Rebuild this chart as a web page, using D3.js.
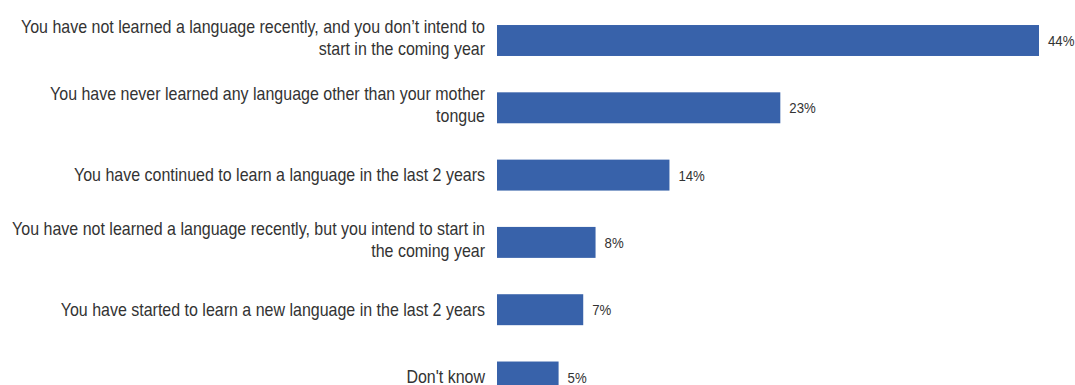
<!DOCTYPE html>
<html><head><meta charset="utf-8">
<script src="https://cdn.jsdelivr.net/npm/d3@7"></script>
<style>
html,body{margin:0;padding:0;background:#fff;}
svg{display:block;}
text{font-family:"Liberation Sans Narrow","Arial Narrow","Liberation Sans",Arial,sans-serif;fill:#333;}
</style></head>
<body>
<svg id="chart" width="1075" height="385"></svg>
<script>
const categories = [
  ["You have not learned a language recently, and you don\u2019t intend to", "start in the coming year"],
  ["You have never learned any language other than your mother", "tongue"],
  ["You have continued to learn a language in the last 2 years"],
  ["You have not learned a language recently, but you intend to start in", "the coming year"],
  ["You have started to learn a new language in the last 2 years"],
  ["Don't know"]
];
const values = [44, 23, 14, 8, 7, 5];
const valueLabels = ["44%", "23%", "14%", "8%", "7%", "5%"];

const svg = d3.select("#chart");
const n = categories.length;
const step = 67.3;
const y = d3.scaleBand().domain(d3.range(n)).range([6.85, 6.85 + n*step]).paddingInner(0.54).paddingOuter(0.27);
const x = d3.scaleLinear().domain([0, 44]).range([497, 1039]);

svg.selectAll("rect.bar").data(values).join("rect")
  .attr("class","bar")
  .attr("x", x(0))
  .attr("y", (d,i)=>y(i))
  .attr("width", d=>x(d)-x(0))
  .attr("height", y.bandwidth())
  .attr("fill", "#3862aa");

svg.selectAll("text.val").data(values).join("text")
  .attr("class","val")
  .attr("transform", (d,i)=>`translate(${x(d)+9},${y(i)+y.bandwidth()/2+5.5}) scale(0.88,1)`)
  .attr("font-size", 15)
  .text((d,i)=>valueLabels[i]);

const lh = 22;
const g = svg.selectAll("text.cat").data(categories).join("text")
  .attr("class","cat")
  .attr("text-anchor","end")
  .attr("font-size", 18)
  .attr("transform", (d,i)=>{
    const c = y(i)+y.bandwidth()/2;
    const base = d.length > 1 ? c - 7.5 : c + 6;
    return `translate(485,${base}) scale(0.889,1)`;
  });
g.each(function(lines){
  const t = d3.select(this);
  lines.forEach((l,j)=>{
    t.append("tspan").attr("x", 0).attr("y", j*lh).text(l);
  });
});
</script>
</body></html>
